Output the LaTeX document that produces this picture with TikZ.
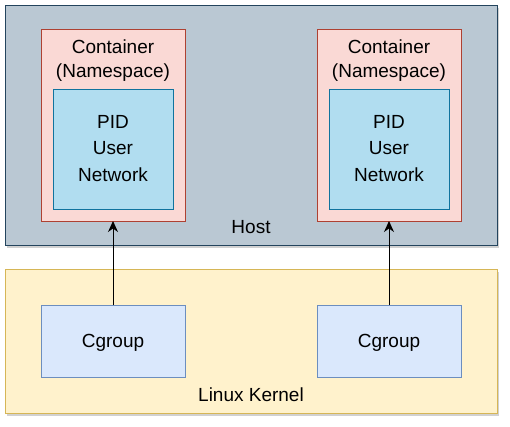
\documentclass[tikz,border=0pt]{standalone}
\usepackage{fontspec}
\setmainfont{Liberation Sans}
\usetikzlibrary{arrows.meta,shadows}
\definecolor{hostfill}{HTML}{BAC8D3}
\definecolor{hostline}{HTML}{23445D}
\definecolor{contfill}{HTML}{FAD9D5}
\definecolor{contline}{HTML}{AE4132}
\definecolor{nsfill}{HTML}{B1DDF0}
\definecolor{nsline}{HTML}{10739E}
\definecolor{kernfill}{HTML}{FFF2CC}
\definecolor{kernline}{HTML}{D6B656}
\definecolor{cgfill}{HTML}{DAE8FC}
\definecolor{cgline}{HTML}{6C8EBF}
\begin{document}
\begin{tikzpicture}[x=1pt,y=-1pt,
  box/.style={draw, line width=1pt, anchor=north west, inner sep=0pt, outer sep=0pt},
  shadowed/.style={drop shadow={shadow xshift=2pt,shadow yshift=-3pt,opacity=0.18,fill=black}},
  hostbox/.style={box, shadowed, fill=hostfill, draw=hostline},
  kernbox/.style={box, shadowed, fill=kernfill, draw=kernline},
  contbox/.style={box, fill=contfill, draw=contline, minimum width=144pt, minimum height=192pt},
  nsbox/.style={box, fill=nsfill, draw=nsline, minimum width=120pt, minimum height=120pt},
  cgbox/.style={box, fill=cgfill, draw=cgline, minimum width=144pt, minimum height=72pt},
  lbl/.style={font=\fontsize{19}{24}\selectfont, inner sep=0pt, align=center, anchor=base},
  nslbl/.style={lbl, font=\fontsize{19}{26.5}\selectfont},
  conn/.style={draw=black, line width=1pt, -{Stealth[length=11pt,width=10pt,inset=3.5pt]}}
]
\useasboundingbox (0,0) rectangle (510,426);
% boxes
\node[hostbox, minimum width=492pt, minimum height=240pt] (host) at (5,5) {};
\node[kernbox, minimum width=492pt, minimum height=144pt] (kernel) at (5,269) {};
\node[contbox] (cont1) at (41,29) {};
\node[contbox] (cont2) at (317,29) {};
\node[nsbox] (ns1) at (53,89) {};
\node[nsbox] (ns2) at (329,89) {};
\node[cgbox] (cg1) at (41,305) {};
\node[cgbox] (cg2) at (317,305) {};
% labels (base anchor = baseline of the last line)
\node[lbl] (contlbl1) at (113,77) {Container\\(Namespace)};
\node[lbl] (contlbl2) at (389,77) {Container\\(Namespace)};
\node[nslbl] (nslbl1) at (113,181) {PID\\User\\Network};
\node[nslbl] (nslbl2) at (389,181) {PID\\User\\Network};
\node[lbl] (hostlbl) at (251,233) {Host};
\node[lbl] (kernlbl) at (251,401) {Linux Kernel};
\node[lbl] (cglbl1) at (113,347) {Cgroup};
\node[lbl] (cglbl2) at (389,347) {Cgroup};
% connectors
\draw[conn] (cg1.north) -- (cont1.south);
\draw[conn] (cg2.north) -- (cont2.south);
\end{tikzpicture}
\end{document}
